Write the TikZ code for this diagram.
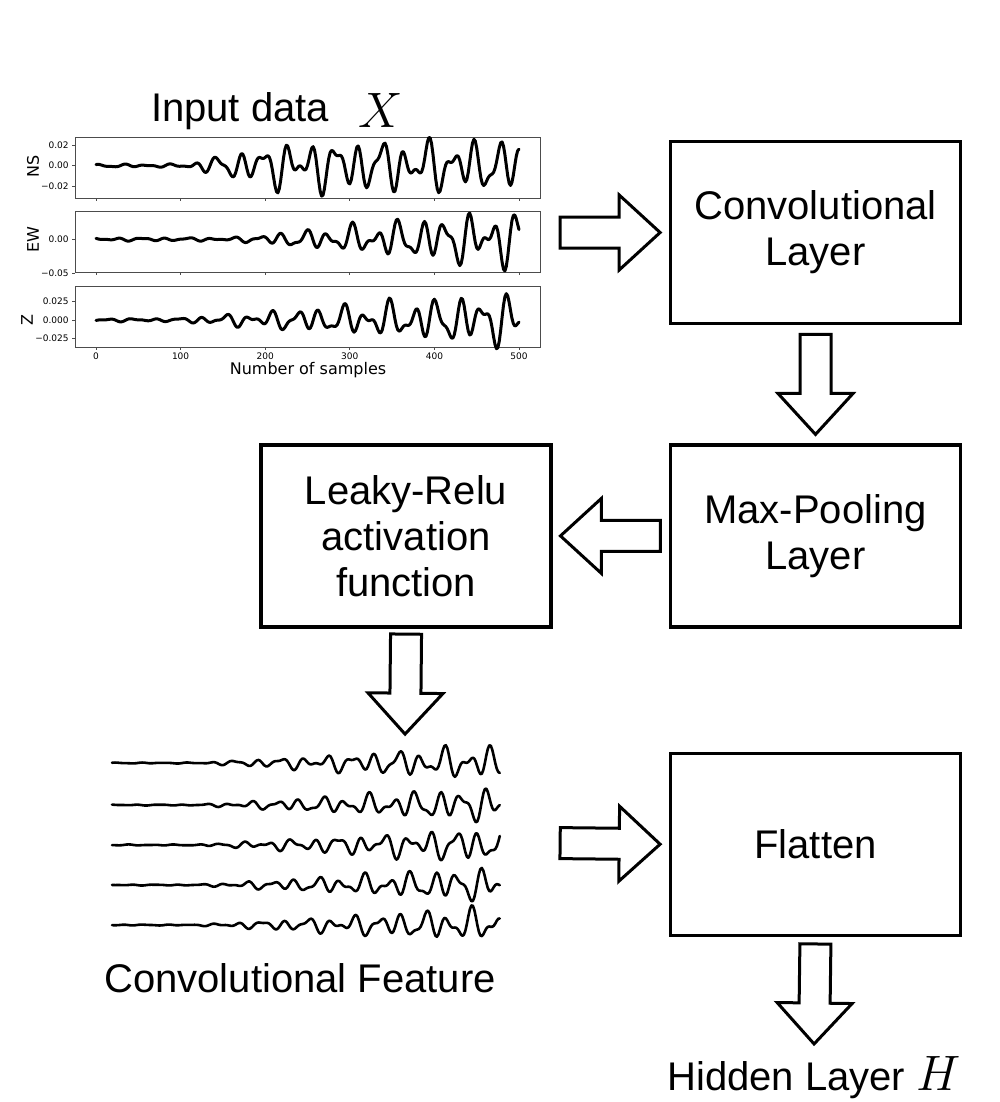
\documentclass[tikz,border=0pt]{standalone}
\usepackage{fontspec}
\setmainfont{Liberation Sans}
\newfontfamily\plotfont{DejaVu Sans}
\usetikzlibrary{positioning,shapes.arrows,calc}

\begin{document}
\begin{tikzpicture}[x=0.5pt, y=-0.5pt,
  every node/.style={font=\fontsize{20}{23}\selectfont},
  block/.style={draw, line width=1.7pt, minimum width=145pt, minimum height=91pt, align=center, inner sep=2pt},
  fatarrow/.style={single arrow, draw, line width=1.5pt, fill=white, minimum height=50pt, minimum width=37pt,
    single arrow head extend=11pt, single arrow tip angle=85, inner xsep=0pt, inner ysep=7pt, line join=miter,
    pos=0.43, sloped, allow upside down},
  axframe/.style={draw=black!70, line width=0.5pt},
  ticklbl/.style={font=\plotfont\fontsize{4.5}{5}\selectfont, inner sep=1pt},
  axlbl/.style={font=\plotfont\fontsize{8}{9}\selectfont, inner sep=0pt},
  wave/.style={line width=1.5pt, line join=round, line cap=round},
  feat/.style={line width=1.3pt, line join=round, line cap=round}
]
\useasboundingbox (0,0) rectangle (1000,1102);

% blocks
\node[block] (conv) at (815.5,232.5) {Convolutional\\Layer};
\node[block, below=59pt of conv] (pool) {Max-Pooling\\Layer};
\node[block, left=58pt of pool] (leaky) {Leaky-Relu\\activation\\function};
\node[block, below=61.5pt of pool] (flat) {Flatten};

% input data plot
\node (title) at (240,111) {Input data};
\node (xsym) at (381,110) {\fontsize{24}{24}\selectfont$X$};
\draw[axframe] (75,137) rectangle (540,198);
\draw[axframe] (75,211) rectangle (540,272);
\draw[axframe] (75,286) rectangle (540,347);
\foreach \yb in {198,272,347}
  \foreach \t in {0,100,...,500}
    \draw[axframe] ({96+0.846*\t},\yb) -- ++(0,3);
\foreach \t in {0,100,...,500}
  \node[ticklbl] (xt\t) at ({96+0.846*\t},356) {\t};
\foreach \y/\lab [count=\i] in {145.2/0.02, 165.7/0.00, 186.2/−0.02, 239.3/0.00, 273.3/−0.05, 301.7/0.025, 320/0.000, 338.3/−0.025} {
  \draw[axframe] (72,\y) -- (75,\y);
  \node[ticklbl, anchor=east] (yt\i) at (71,\y) {\lab};
}
\node[axlbl, rotate=90] (nslbl) at (33,166) {NS};
\node[axlbl, rotate=90] (ewlbl) at (33,240) {EW};
\node[axlbl, rotate=90] (zlbl) at (27,320) {Z};
\node[axlbl] (xlbl) at (308,370) {Number of samples};
\foreach \yc/\amp/\ta/\tb/\pa/\pb/\pc in {165.7/16/100/230/20/70/140, 239.3/17/160/460/110/200/30, 320/16/90/470/250/10/80}
  \draw[wave] plot[domain=0:500, samples=301] ({96+0.846*\x}, {\yc-\amp*(0.06+0.94*max(0,min(1,(\x-\ta)/(\tb-\ta))))*(sin(13*\x+\pa)+0.6*sin(21*\x+\pb)+0.4*sin(7.3*\x+\pc))});
\coordinate (inp) at (551,232.5);

% convolutional features
\foreach \yb/\pa/\pb/\pc in {763/0/50/100, 805/80/160/20, 845/200/30/300, 885/150/260/60, 925/300/120/210}
  \draw[feat] plot[domain=0:460, samples=260] ({112+0.843*\x}, {\yb-10*(0.03+0.97*max(0,min(1,(\x-100)/320)))*(sin(13*\x+\pa)+0.6*sin(21*\x+\pb)+0.4*sin(7.3*\x+\pc))});
\node (featlbl) at (300,978) {Convolutional Feature};
\coordinate (featin) at (405,738);
\coordinate (featout) at (551,843);

\node (hidden) at (814,1078) {Hidden Layer {\fontsize{24}{24}\selectfont$H$}};

% block arrows
\path (inp) -- (conv.west) node[fatarrow] {};
\path (conv.south) -- (pool.north) node[fatarrow] {};
\path (pool.west) -- (leaky.east) node[fatarrow] {};
\path (leaky.south) -- (featin) node[fatarrow] {};
\path (featout) -- (flat.west) node[fatarrow] {};
\path (flat.south) -- (hidden.north) node[fatarrow] {};
\end{tikzpicture}
\end{document}
